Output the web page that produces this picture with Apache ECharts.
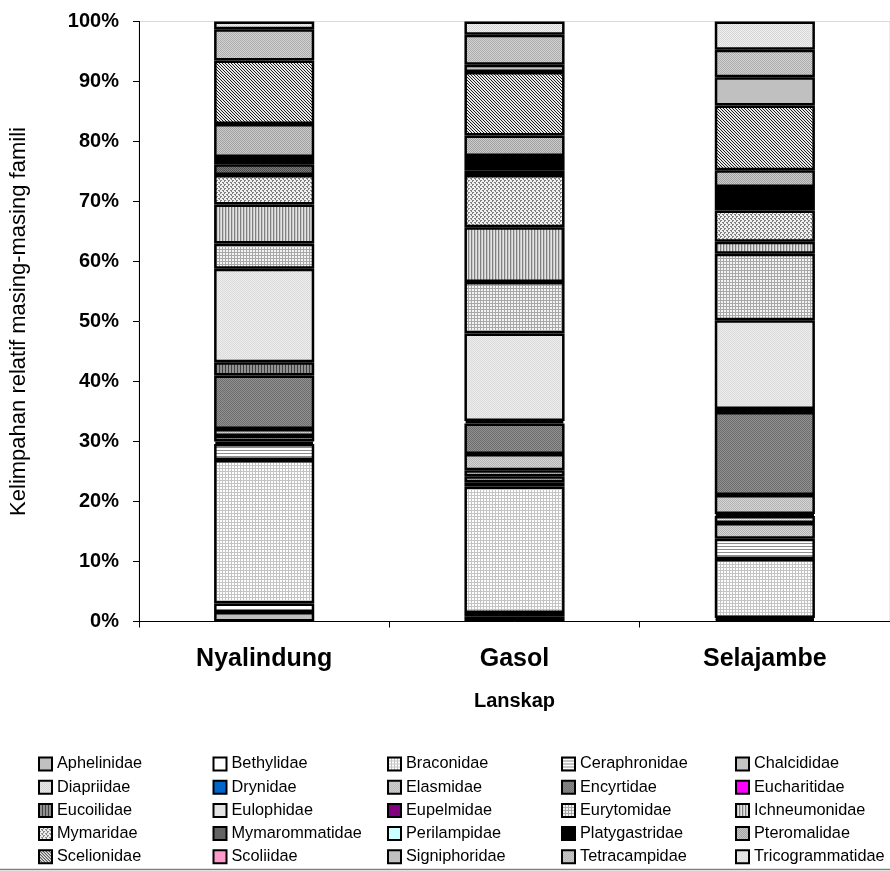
<!DOCTYPE html>
<html>
<head>
<meta charset="utf-8">
<script src="https://cdn.jsdelivr.net/npm/echarts@6/dist/echarts.min.js"></script>
<style>html,body{margin:0;padding:0;background:#fff}#c{width:890px;height:871px}</style>
</head>
<body>
<div id="c"></div>
<script>
// ---- DATA (percent of individuals per family, per landscape) ----
const categories = ['Nyalindung', 'Gasol', 'Selajambe'];
const families = ['Aphelinidae','Bethylidae','Braconidae','Ceraphronidae','Chalcididae',
  'Diapriidae','Drynidae','Elasmidae','Encyrtidae','Eucharitidae',
  'Eucoilidae','Eulophidae','Eupelmidae','Eurytomidae','Ichneumonidae',
  'Mymaridae','Mymarommatidae','Perilampidae','Platygastridae','Pteromalidae',
  'Scelionidae','Scoliidae','Signiphoridae','Tetracampidae','Tricogrammatidae'];
const nyalindung = [1.6,1.4,23.9,2.7,0.4, 0.9,0,1.2,8.9,0, 2.2,15.6,0,4.2,6.5, 4.9,1.8,0,1.2,5.5, 10.6,0,0,5.2,1.3];
const gasol      = [0.8,0.6,21.1,0.7,1.0, 1.0,0,2.7,5.1,0, 0.4,14.6,0,8.6,9.1, 8.7,0.8,0,2.4,3.4, 10.6,0,1.2,5.0,2.2];
const selajambe  = [0.3,0.3,9.8,3.4,2.6, 1.2,0.3,3.2,13.8,0, 0.5,14.8,0,11.1,2.0, 5.2,0,0,3.9,2.8, 10.8,0,4.7,4.6,4.7];
const yTickValues = [0,10,20,30,40,50,60,70,80,90,100];

// ---- STYLES (fill patterns) ----
function pat(rows, colors) {
  const h = rows.length, w = rows[0].length;
  const c = document.createElement('canvas');
  c.width = w; c.height = h;
  const ctx = c.getContext('2d');
  for (let y = 0; y < h; y++) for (let x = 0; x < w; x++) {
    ctx.fillStyle = colors[rows[y][x]];
    ctx.fillRect(x, y, 1, 1);
  }
  return { image: c, repeat: 'repeat' };
}
const chk = (a, b) => pat(['ab', 'ba'], { a: a, b: b });
const fills = [
  '#c0c0c0',                                                  // Aphelinidae
  '#ffffff',                                                  // Bethylidae
  pat(['aaa', 'abb', 'abb'], { a: '#c4c4c4', b: '#ffffff' }), // Braconidae
  pat(['a', 'b', 'b'], { a: '#8c8c8c', b: '#ffffff' }),       // Ceraphronidae
  chk('#b0b0b0', '#d8d8d8'),                                  // Chalcididae
  chk('#cfcfcf', '#f0f0f0'),                                  // Diapriidae
  '#0066cc',                                                  // Drynidae
  chk('#b4b4b4', '#d4d4d4'),                                  // Elasmidae
  chk('#6c6c6c', '#929292'),                                  // Encyrtidae
  '#ff00ff',                                                  // Eucharitidae
  pat(['abb'], { a: '#404040', b: '#909090' }),               // Eucoilidae
  chk('#dcdcdc', '#ececec'),                                  // Eulophidae
  '#800080',                                                  // Eupelmidae
  pat(['aaa', 'abb', 'abb'], { a: '#a8a8a8', b: '#f4f4f4' }), // Eurytomidae
  pat(['abc'], { a: '#808080', b: '#c8c8c8', c: '#e4e4e4' }), // Ichneumonidae
  pat(['aabb', 'abbb', 'bbaa', 'bbba'], { a: '#808080', b: '#f0f0f0' }), // Mymaridae
  chk('#4c4c4c', '#7c7c7c'),                                  // Mymarommatidae
  '#ccffff',                                                  // Perilampidae
  '#000000',                                                  // Platygastridae
  chk('#a0a0a0', '#cccccc'),                                  // Pteromalidae
  pat(['abb', 'bab', 'bba'], { a: '#202020', b: '#e8e8e8' }), // Scelionidae
  '#ff99cc',                                                  // Scoliidae
  '#c0c0c0',                                                  // Signiphoridae
  chk('#acacac', '#d2d2d2'),                                  // Tetracampidae
  chk('#d6d6d6', '#f0f0f0')                                   // Tricogrammatidae
];

const FONT = "'Liberation Sans', Arial, sans-serif";
const chart = echarts.init(document.getElementById('c'), null, { renderer: 'canvas' });

const series = families.map((name, i) => ({
  name: name,
  type: 'bar',
  stack: 'total',
  barWidth: '40%',
  itemStyle: { color: fills[i], borderColor: '#000', borderWidth: 2.5 },
  emphasis: { disabled: true },
  data: [nyalindung[i], gasol[i], selajambe[i]].map(v => (v === 0 ? '-' : v))
}));

const colX = [38, 212.5, 387, 561, 735];
const legends = colX.map((x, c) => ({
  orient: 'vertical',
  left: x,
  top: 756,
  padding: 0,
  itemGap: 7.2,
  itemWidth: 13,
  itemHeight: 13,
  icon: 'rect',
  selectedMode: false,
  itemStyle: { borderColor: '#000', borderWidth: 2 },
  textStyle: { fontFamily: FONT, fontSize: 16.3, color: '#000', lineHeight: 16 },
  data: [0, 1, 2, 3, 4].map(r => families[r * 5 + c])
}));

chart.setOption({
  animation: false,
  backgroundColor: '#fff',
  legend: legends,
  grid: { left: 139, top: 21.5, height: 600, width: 759, show: true, borderColor: '#d9d9d9', borderWidth: 1, backgroundColor: 'transparent' },
  xAxis: {
    type: 'category',
    data: categories,
    axisLine: { lineStyle: { color: '#000', width: 1 } },
    axisTick: { show: true, length: 6, lineStyle: { color: '#000' } },
    axisLabel: { fontFamily: FONT, fontSize: 25, fontWeight: 'bold', color: '#000', margin: 25 },
    name: 'Lanskap',
    nameLocation: 'middle',
    nameGap: 70,
    nameTextStyle: { fontFamily: FONT, fontSize: 20, fontWeight: 'bold', color: '#000' }
  },
  yAxis: {
    type: 'value',
    min: yTickValues[0],
    max: yTickValues[yTickValues.length - 1],
    interval: yTickValues[1] - yTickValues[0],
    axisLine: { show: true, lineStyle: { color: '#000', width: 1 } },
    axisTick: { show: true, length: 6, lineStyle: { color: '#000' } },
    splitLine: { show: false },
    axisLabel: { fontFamily: FONT, fontSize: 20, fontWeight: 'bold', color: '#000', margin: 20, formatter: '{value}%' },
    name: 'Kelimpahan relatif masing-masing famili',
    nameLocation: 'middle',
    nameGap: 109,
    nameTextStyle: { fontFamily: FONT, fontSize: 22, color: '#000' }
  },
  graphic: [{
    type: 'line',
    shape: { x1: 0, y1: 869.5, x2: 890, y2: 869.5 },
    style: { stroke: '#808080', lineWidth: 1.5 },
    silent: true
  }],
  series: series
});
</script>
</body>
</html>
